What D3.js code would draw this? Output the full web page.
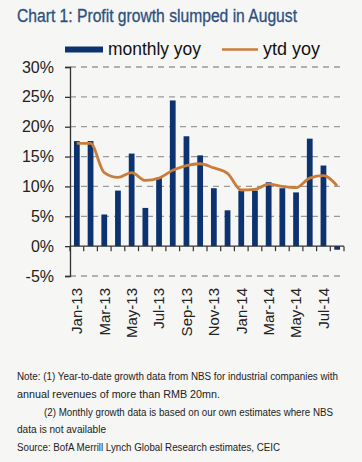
<!DOCTYPE html>
<html><head><meta charset="utf-8">
<script src="https://cdn.jsdelivr.net/npm/d3@7"></script>
<style>
html,body{margin:0;padding:0;background:#f6f6f5;}
svg{display:block;font-family:"Liberation Sans",Arial,sans-serif;}
</style></head>
<body><svg id="c" width="362" height="462"></svg>
<script>
const months = ["Jan-13","Feb-13","Mar-13","Apr-13","May-13","Jun-13","Jul-13","Aug-13","Sep-13","Oct-13","Nov-13","Dec-13","Jan-14","Feb-14","Mar-14","Apr-14","May-14","Jun-14","Jul-14","Aug-14"];
const monthlyYoy = [17.6,17.6,5.3,9.3,15.5,6.4,11.5,24.4,18.4,15.2,9.7,6.0,9.3,9.3,10.7,9.7,9.0,18.0,13.5,-0.6];
const ytdYoy = [17.2,17.2,12.3,11.5,12.3,11.0,11.4,12.7,13.5,13.8,13.1,12.2,9.4,9.5,10.4,10.0,9.8,11.4,11.8,10.1];
const yTicks = [-5,0,5,10,15,20,25,30];
const labelMonths = ["Jan-13","Mar-13","May-13","Jul-13","Sep-13","Nov-13","Jan-14","Mar-14","May-14","Jul-14"];
const title = "Chart 1: Profit growth slumped in August";
const notes = [
  {t:"Note: (1) Year-to-date growth data from NBS for industrial companies with", x:17, w:321},
  {t:"annual revenues of more than RMB 20mn.", x:17, w:203},
  {t:"(2) Monthly growth data is based on our own estimates where NBS", x:44, w:289},
  {t:"data is not available", x:17, w:89},
  {t:"Source: BofA Merrill Lynch Global Research estimates, CEIC", x:17, w:263}
];

const svg = d3.select("#c");
const navy = "#0d3270", orange = "#c97d3a";
const L = 70, R = 344, T = 67, B = 276;

const x = d3.scaleBand().domain(months).range([L, R]).paddingInner(0.58).paddingOuter(0.29);
const y = d3.scaleLinear().domain([-5, 30]).range([B, T]);

// title
svg.append("text").attr("x", 17).attr("y", 22).attr("fill", "#2c5080")
  .attr("font-size", 18).attr("textLength", 280).attr("lengthAdjust", "spacingAndGlyphs")
  .attr("stroke", "#2c5080").attr("stroke-width", 0.3)
  .text(title);

// legend
svg.append("rect").attr("x", 65).attr("y", 46.5).attr("width", 38).attr("height", 6).attr("fill", navy);
svg.append("text").attr("x", 108).attr("y", 55).attr("font-size", 17.5).attr("fill", "#111")
  .attr("textLength", 93).attr("lengthAdjust", "spacingAndGlyphs").text("monthly yoy");
svg.append("line").attr("x1", 222).attr("x2", 258).attr("y1", 49.5).attr("y2", 49.5)
  .attr("stroke", orange).attr("stroke-width", 2.5);
svg.append("text").attr("x", 263).attr("y", 55).attr("font-size", 17.5).attr("fill", "#111")
  .attr("textLength", 57).attr("lengthAdjust", "spacingAndGlyphs").text("ytd yoy");

// gridlines
svg.append("g").selectAll("line").data(yTicks.filter(d => d !== 0)).join("line")
  .attr("x1", L).attr("x2", R).attr("y1", d => y(d)).attr("y2", d => y(d))
  .attr("stroke", "#9a9a9a").attr("stroke-width", 1.3).attr("stroke-dasharray", "6,5");

// bars
svg.append("g").selectAll("rect").data(months).join("rect")
  .attr("x", d => x(d)).attr("width", x.bandwidth())
  .attr("y", (d, i) => y(Math.max(0, monthlyYoy[i])))
  .attr("height", (d, i) => Math.abs(y(monthlyYoy[i]) - y(0)))
  .attr("fill", navy);

// y axis
const yAxis = d3.axisLeft(y).tickValues(yTicks).tickFormat(d => d + "%").tickSize(5).tickPadding(11);
const ga = svg.append("g").attr("transform", `translate(${L},0)`).call(yAxis);
ga.select(".domain").attr("stroke", "#333").attr("stroke-width", 1.3);
ga.selectAll(".tick line").attr("stroke", "#333").attr("stroke-width", 1.3);
ga.selectAll(".tick text").attr("font-size", 16).attr("fill", "#222").attr("font-family", "Liberation Sans, Arial, sans-serif");

// x axis at zero
const gx = svg.append("g").attr("transform", `translate(0,${y(0)})`);
gx.append("line").attr("x1", L).attr("x2", R).attr("stroke", "#333").attr("stroke-width", 1.3);
const step = x.step();
gx.selectAll("line.tk").data(d3.range(months.length + 1)).join("line").attr("class", "tk")
  .attr("x1", i => L + i * step).attr("x2", i => L + i * step).attr("y1", 0).attr("y2", 5)
  .attr("stroke", "#333").attr("stroke-width", 1.2);

// x labels
svg.append("g").selectAll("text").data(labelMonths).join("text")
  .attr("transform", d => `translate(${x(d) + x.bandwidth() / 2},288) rotate(-90)`)
  .attr("text-anchor", "end").attr("dy", "0.35em").attr("font-size", 15).attr("fill", "#222")
  .text(d => d);

// ytd line
const line = d3.line().x((d, i) => x(months[i]) + x.bandwidth() / 2).y(d => y(d)).curve(d3.curveMonotoneX);
svg.append("path").datum(ytdYoy).attr("d", line).attr("fill", "none")
  .attr("stroke", orange).attr("stroke-width", 2.8).attr("stroke-linejoin", "round");

// notes
const ny = [380, 398, 415.5, 433, 450.5];
svg.append("g").selectAll("text").data(notes).join("text")
  .attr("x", d => d.x).attr("y", (d, i) => ny[i]).attr("font-size", 10).attr("fill", "#222")
  .attr("font-family", "'Liberation Sans Narrow', 'Liberation Sans', Arial, sans-serif")
  .attr("textLength", d => d.w).attr("lengthAdjust", "spacingAndGlyphs").text(d => d.t);
</script></body></html>
